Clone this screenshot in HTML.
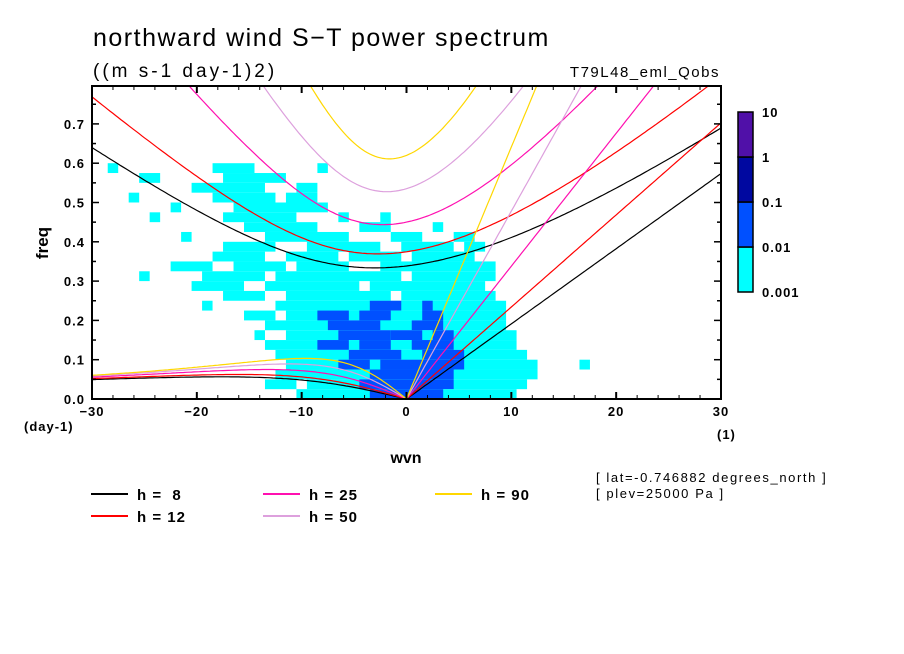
<!DOCTYPE html>
<html><head><meta charset="utf-8"><style>
html,body{margin:0;padding:0;background:#fff;}
svg{display:block;font-family:"Liberation Sans",sans-serif;}
.tk{font-size:13px;font-weight:bold;letter-spacing:1px;}
</style></head><body>
<svg id="chart" width="904" height="654" viewBox="0 0 904 654">
<text x="93" y="46" font-size="25" letter-spacing="1.5">northward wind S−T power spectrum</text>
<text x="93" y="77" font-size="19" letter-spacing="3">((m s-1 day-1)2)</text>
<text x="720" y="77" font-size="15" letter-spacing="1.5" text-anchor="end">T79L48_eml_Qobs</text>
<defs><clipPath id="pc"><rect x="92" y="86" width="629" height="313"/></clipPath></defs>
<g id="cells" clip-path="url(#pc)"></g>
<g id="curves" clip-path="url(#pc)"></g>
<rect x="92" y="86" width="629" height="313" fill="none" stroke="#000" stroke-width="2"/>
<g id="axes"></g>
<text transform="translate(48,243) rotate(-90)" font-size="17" font-weight="bold" text-anchor="middle">freq</text>
<text x="24" y="431" class="tk">(day-1)</text>
<text x="406" y="463" font-size="16" font-weight="bold" text-anchor="middle">wvn</text>
<text x="717" y="439" class="tk">(1)</text>
<g id="cbar"></g>
<g id="legend"></g>
<text x="596" y="482" font-size="13" letter-spacing="1.6">[ lat=-0.746882 degrees_north ]</text>
<text x="596" y="498" font-size="13" letter-spacing="1.6">[ plev=25000 Pa ]</text>
</svg>
<script>
const depths = [8, 12, 25, 50, 90];
const depthColors = ["#000000", "#ff0000", "#ff10b0", "#dda0dd", "#ffd700"];
const levelLabels = ["0.001", "0.01", "0.1", "1", "10"];
const levelColors = ["#00ffff", "#0050ff", "#0008a0", "#5010a8"];
const xTicks = [-30, -20, -10, 0, 10, 20, 30];
const yTicks = [0, 0.1, 0.2, 0.3, 0.4, 0.5, 0.6, 0.7];
const freqBinSize = 0.025;
// rows from top bin (0.575-0.6) down to (0-0.025): segments [wvnLo, wvnHi, level]
const powerRows = [
 [[-28,-28,1],[-18,-15,1],[-8,-8,1]],
 [[-25,-24,1],[-17,-12,1]],
 [[-20,-14,1],[-10,-9,1]],
 [[-26,-26,1],[-18,-13,1],[-11,-9,1]],
 [[-22,-22,1],[-16,-8,1]],
 [[-24,-24,1],[-17,-11,1],[-6,-6,1],[-2,-2,1]],
 [[-15,-9,1],[-4,-2,1],[3,3,1]],
 [[-21,-21,1],[-13,-6,1],[-1,1,1],[5,6,1]],
 [[-17,-13,1],[-9,-3,1],[0,4,1],[6,7,1]],
 [[-18,-14,1],[-11,-7,1],[-5,-1,1],[1,6,1]],
 [[-22,-19,1],[-16,-12,1],[-10,-6,1],[-2,8,1]],
 [[-25,-25,1],[-19,-14,1],[-12,-1,1],[1,8,1]],
 [[-20,-16,1],[-13,-5,1],[-3,7,1]],
 [[-17,-14,1],[-11,-2,1],[0,8,1]],
 [[-19,-19,1],[-12,9,1],[-3,-1,2],[2,2,2]],
 [[-15,-13,1],[-11,9,1],[-8,-6,2],[-4,-2,2],[2,3,2]],
 [[-13,9,1],[-7,-3,2],[1,3,2]],
 [[-14,-14,1],[-11,10,1],[-6,-2,2],[-1,1,2],[3,4,2]],
 [[-13,10,1],[-8,-6,2],[-4,-2,2],[1,4,2]],
 [[-12,11,1],[-5,-1,2],[2,5,2]],
 [[-11,12,1],[-6,-4,2],[-2,5,2],[17,17,1]],
 [[-12,12,1],[-3,4,2]],
 [[-13,-11,1],[-9,11,1],[-4,4,2]],
 [[-10,10,1],[-3,3,2]]
];
const NS = "http://www.w3.org/2000/svg";
const X0 = 92, X1 = 721, Y0 = 399, YPER = 393;
function xs(w){ return X0 + (w + 30) / 60 * (X1 - X0); }
function ys(f){ return Y0 - f * YPER; }
function mk(tag, attrs, parent){ const e = document.createElementNS(NS, tag); for (const k in attrs) e.setAttribute(k, attrs[k]); parent.appendChild(e); return e; }

const cells = document.getElementById('cells');
const nRows = powerRows.length;
powerRows.forEach((segs, ri) => {
  const fHi = (nRows - ri) * freqBinSize, fLo = fHi - freqBinSize;
  segs.forEach(s => {
    const r = mk('rect', {x: xs(s[0] - 0.5), y: ys(fHi), width: xs(s[1] + 0.5) - xs(s[0] - 0.5), height: ys(fLo) - ys(fHi), fill: levelColors[s[2] - 1]}, cells);
    
    
  });
});

const beta = 2.28e-11, a = 6.371e6, g = 9.81, CPD = 86400 / (2 * Math.PI), IGSCALE = 1.0;
function cubicRoot(A, B, lo, hi){
  const f = w => w*w*w - A*w - B;
  let flo = f(lo);
  for (let i = 0; i < 80; i++){ const m = (lo + hi) / 2, fm = f(m); if ((fm > 0) === (flo > 0)) { lo = m; flo = fm; } else hi = m; }
  return (lo + hi) / 2;
}
const curves = document.getElementById('curves');
depths.forEach((h, i) => {
  const c = Math.sqrt(g * h);
  let ig = [], ross = [], kel = [];
  for (let w = -32; w <= 32.001; w += 0.25){
    const k = w / a;
    const ke = k * IGSCALE;
    const A = c*c*ke*ke + 3*beta*c, B = beta*ke*c*c;
    const m = Math.sqrt(A / 3);
    let hi = 2 * Math.sqrt(A) + 1e-6; while (hi*hi*hi - A*hi - B < 0) hi *= 2;
    ig.push([xs(w), ys(cubicRoot(A, B, m, hi) * CPD)]);
    if (w <= 0){ ross.push([xs(w), ys(-beta * k / (k*k + 3*beta/c) * CPD)]); }
    if (w >= 0){ kel.push([xs(w), ys(c * k * CPD)]); }
  }
  [['ig', ig], ['rossby', ross], ['kelvin', kel]].forEach(([nm, pts]) => {
    const p = mk('polyline', {points: pts.map(q => q[0].toFixed(1) + ',' + q[1].toFixed(1)).join(' '), fill: 'none', stroke: depthColors[i], 'stroke-width': 1.2}, curves);
    
    
  });
});

const axes = document.getElementById('axes');
for (let w = -30; w <= 30; w += 2){
  const major = w % 10 === 0, L = major ? 7 : 4;
  mk('line', {x1: xs(w), x2: xs(w), y1: Y0, y2: Y0 - L, stroke: '#000', 'stroke-width': major ? 2 : 1}, axes);
  mk('line', {x1: xs(w), x2: xs(w), y1: 86, y2: 86 + L, stroke: '#000', 'stroke-width': major ? 2 : 1}, axes);
}
for (let f = 0.05; f < 0.8; f += 0.05){
  const major = Math.abs(Math.round(f * 10) - f * 10) < 1e-6, L = major ? 7 : 4;
  mk('line', {x1: X0, x2: X0 + L, y1: ys(f), y2: ys(f), stroke: '#000', 'stroke-width': 1.5}, axes);
  mk('line', {x1: X1, x2: X1 - L, y1: ys(f), y2: ys(f), stroke: '#000', 'stroke-width': 1.5}, axes);
}
xTicks.forEach(v => {
  const t = mk('text', {x: xs(v), y: 416, 'text-anchor': 'middle', class: 'tk'}, axes);
  t.textContent = v < 0 ? '−' + Math.abs(v) : String(v);
  
  
});
yTicks.forEach(v => {
  const t = mk('text', {x: 85, y: ys(v) + 5, 'text-anchor': 'end', class: 'tk'}, axes);
  t.textContent = v.toFixed(1);
  
  
});

const cbar = document.getElementById('cbar');
const cbTop = 112, cbBot = 292, cbH = (cbBot - cbTop) / levelColors.length;
levelColors.forEach((col, i) => {
  const r = mk('rect', {x: 738, y: cbBot - (i + 1) * cbH, width: 15, height: cbH, fill: col, stroke: '#000', 'stroke-width': 1.5}, cbar);
  
  
});
levelLabels.forEach((lab, i) => {
  const t = mk('text', {x: 762, y: cbBot - i * cbH + 5, class: 'tk'}, cbar);
  t.textContent = lab;
  
  
});

const legend = document.getElementById('legend');
depths.forEach((h, i) => {
  const col = Math.floor(i / 2), row = i % 2;
  const x = 91 + col * 172, y = 494 + row * 22;
  const g1 = mk('g', {}, legend);
  
  
  mk('line', {x1: x, x2: x + 37, y1: y, y2: y, stroke: depthColors[i], 'stroke-width': 2}, g1);
  const t = mk('text', {x: x + 46, y: y + 6, 'font-size': 15, 'font-weight': 'bold', 'letter-spacing': 1}, g1);
  t.textContent = 'h = ' + (h < 10 ? '\u00a0' + h : h);
});
</script>
</body></html>
